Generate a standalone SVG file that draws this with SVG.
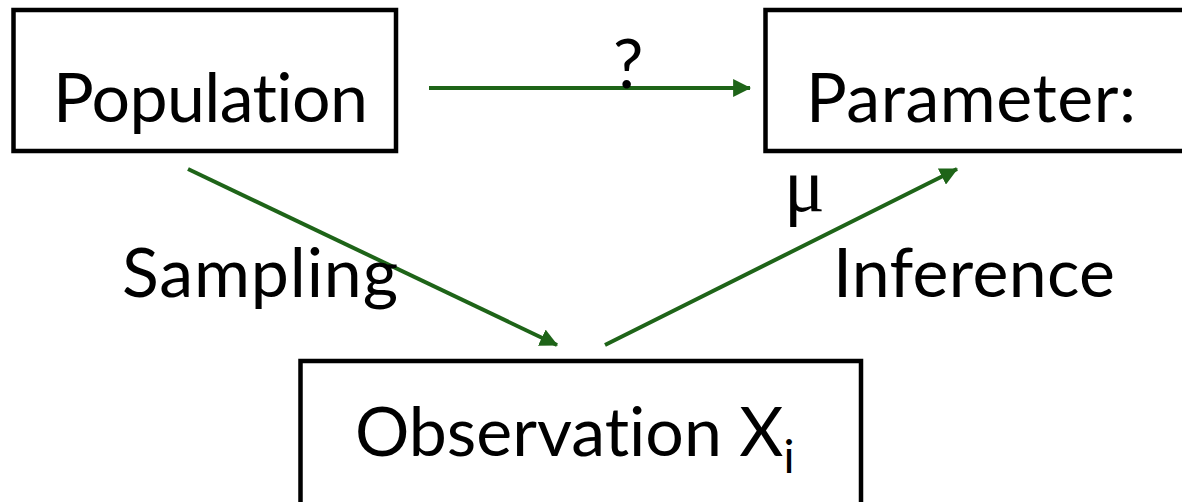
<svg xmlns="http://www.w3.org/2000/svg" width="1182" height="502" viewBox="0 0 1182 502">
  <style>
    .box { fill: #ffffff; stroke: #000000; stroke-width: 4.5; }
    .lbl { font-family: Lato, "Open Sans", "Liberation Sans", sans-serif; fill: #000000; font-variant-ligatures: none; font-feature-settings: "liga" 0, "clig" 0; }
    .big { font-size: 68px; }
    .conn { stroke: #1e6418; stroke-width: 4; fill: none; marker-end: url(#arrow); }
    .greek { font-family: "Liberation Serif", "DejaVu Serif", serif; font-size: 76px; fill: #000000; }
  </style>
  <defs>
    <marker id="arrow" markerUnits="userSpaceOnUse" markerWidth="18" markerHeight="18" viewBox="0 0 16 16" refX="15" refY="8" orient="auto">
      <path d="M0,0 L16,8 L0,16 Z" fill="#1e6418"/>
    </marker>
  </defs>
  <rect width="1182" height="502" fill="#ffffff"/>
  <g id="population">
    <rect class="box" x="13.5" y="10" width="382.5" height="141"/>
    <text class="lbl big" x="53" y="122" textLength="315">Population</text>
  </g>
  <g id="parameter">
    <rect class="box" x="765.5" y="10" width="440" height="141"/>
    <text class="lbl big" x="806" y="122" textLength="330">Parameter:</text>
  </g>
  <g id="observation">
    <rect class="box" x="300.5" y="361" width="560.5" height="160"/>
    <text class="lbl big" x="355" y="456">Observation X<tspan font-size="46" dy="17">i</tspan></text>
  </g>
  <g id="connectors">
    <line class="conn" x1="429" y1="88" x2="750" y2="88"/>
    <line class="conn" x1="188" y1="169" x2="557" y2="345"/>
    <line class="conn" x1="605" y1="345" x2="957" y2="169"/>
  </g>
  <g id="labels">
    <text class="lbl" font-size="68" x="613" y="88">?</text>
    <text class="greek" x="784" y="211">μ</text>
    <text class="lbl big" x="122" y="297" textLength="276">Sampling</text>
    <text class="lbl big" x="833" y="297" textLength="282">Inference</text>
  </g>
</svg>
